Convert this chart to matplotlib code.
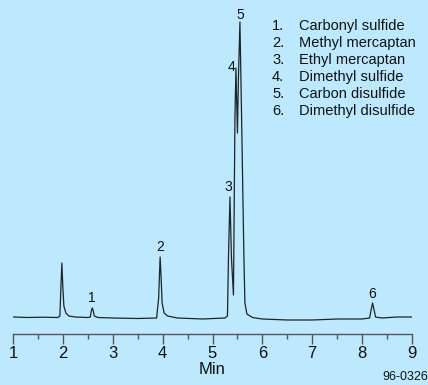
import matplotlib
matplotlib.use("Agg")
import matplotlib.pyplot as plt
from matplotlib.ticker import MultipleLocator

plt.rcParams['font.family'] = ['Liberation Sans', 'DejaVu Sans']

# trace: time (min) and detector signal (arbitrary units)
time = [1.00, 1.30, 1.60, 1.90, 1.94, 1.96, 1.98, 2.00, 2.02, 2.06, 2.12, 2.25,
        2.50, 2.55, 2.57, 2.59, 2.61, 2.63, 2.70, 3.00, 3.50, 3.88, 3.92, 3.95,
        3.97, 3.99, 4.03, 4.10, 4.30, 4.80, 5.25, 5.30, 5.32, 5.35, 5.38, 5.42,
        5.45, 5.47, 5.50, 5.52, 5.55, 5.58, 5.61, 5.63, 5.65, 5.69, 5.80, 6.00,
        6.50, 7.00, 7.50, 8.00, 8.15, 8.18, 8.21, 8.24, 8.27, 8.40, 8.70, 9.00]
signal = [1.0, 0.5, 0.8, 0.5, 2, 30, 55, 30, 12, 5, 2, 1,
          0.5, 1, 7, 10, 7, 2, 0.5, 0, -0.5, 0, 20, 61,
          40, 15, 5, 2, 0, -1, 0, 2, 60, 121, 60, 23,
          200, 250, 185, 240, 296, 210, 120, 60, 15, 4, 0.5, -1,
          -2, -2, -1, -1, 0, 8, 15, 8, 1, 0, 1, 1]

peak_labels = ['1', '2', '3', '4', '5', '6']
peak_times = [2.59, 3.95, 5.31, 5.39, 5.55, 8.21]
peak_label_y = [13, 64, 124, 244, 296, 17]
compounds = ['Carbonyl sulfide', 'Methyl mercaptan', 'Ethyl mercaptan',
             'Dimethyl sulfide', 'Carbon disulfide', 'Dimethyl disulfide']

bg = '#bde9fe'
fig = plt.figure(figsize=(4.28, 3.85), dpi=100, facecolor=bg)
ax = fig.add_axes([13 / 428, 51 / 385, 399 / 428, 314 / 385])
ax.set_facecolor(bg)

ax.plot(time, signal, color='#222222', lw=0.9)

for lab, t, y in zip(peak_labels, peak_times, peak_label_y):
    ax.text(t, y, lab, ha='center', va='bottom', fontsize=10, color='#111111')

# compound list
for i, name in enumerate(compounds):
    yy = 1 - (26 + 17 * i) / 385
    fig.text(272 / 428, yy, f'{i + 1}.', fontsize=10.5, va='center', color='#111111')
    fig.text(299 / 428, yy, name, fontsize=10.5, va='center', color='#111111')

ax.set_xlim(1, 9)
ax.set_ylim(-16, 298)
for s in ['top', 'right', 'left']:
    ax.spines[s].set_visible(False)
ax.spines['bottom'].set_color('#555555')
ax.spines['bottom'].set_linewidth(1)
ax.set_yticks([])
ax.xaxis.set_major_locator(MultipleLocator(1))
ax.xaxis.set_minor_locator(MultipleLocator(0.5))
ax.tick_params(axis='x', which='major', length=7.2, width=1, color='#555555',
               pad=1.5, labelsize=12, labelcolor='#111111')
ax.tick_params(axis='x', which='minor', length=3.6, width=1, color='#555555')
ax.set_xlabel('Min', fontsize=12, labelpad=1, color='#111111')

# title cropped by the top edge, only its lowest pixels show
fig.text(183 / 428, 1 + 1 / 385, 'Sulfur Gases', ha='center', va='baseline',
         fontsize=12, color='#888888')
fig.text(1.0, 2 / 385, '96-0326', ha='right', va='bottom', fontsize=9, color='#111111')

fig.savefig('out.png', dpi=100, facecolor=bg)
